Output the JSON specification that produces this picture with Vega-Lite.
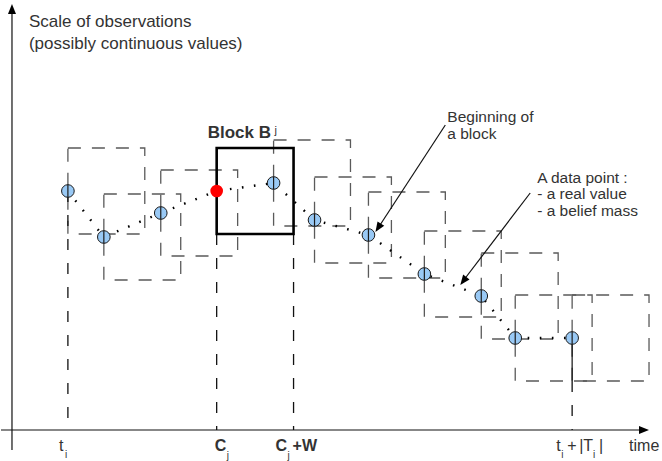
{
  "$schema": "https://vega.github.io/schema/vega-lite/v6.json",
  "width": 662,
  "height": 461,
  "autosize": {"type": "fit", "contains": "padding"},
  "padding": 0,
  "background": "white",
  "config": {"view": {"stroke": null}},
  "datasets": {
    "pts": [
      {"i": 1, "t": 56, "v": 239, "kind": "obs"},
      {"i": 2, "t": 92, "v": 193, "kind": "obs"},
      {"i": 3, "t": 149, "v": 217, "kind": "obs"},
      {"i": 4, "t": 205, "v": 239, "kind": "start"},
      {"i": 5, "t": 262, "v": 247, "kind": "obs"},
      {"i": 6, "t": 303, "v": 210, "kind": "obs"},
      {"i": 7, "t": 357, "v": 195, "kind": "obs"},
      {"i": 8, "t": 413, "v": 156, "kind": "obs"},
      {"i": 9, "t": 470, "v": 134, "kind": "obs"},
      {"i": 10, "t": 504, "v": 92, "kind": "obs"},
      {"i": 11, "t": 561, "v": 92, "kind": "obs"}
    ],
    "boxes": [
      {"t1": 56, "t2": 133, "v1": 196, "v2": 282},
      {"t1": 92, "t2": 169, "v1": 150, "v2": 236},
      {"t1": 149, "t2": 226, "v1": 174, "v2": 260},
      {"t1": 262, "t2": 339, "v1": 204, "v2": 290},
      {"t1": 303, "t2": 380, "v1": 167, "v2": 253},
      {"t1": 357, "t2": 434, "v1": 152, "v2": 238},
      {"t1": 413, "t2": 490, "v1": 113, "v2": 199},
      {"t1": 470, "t2": 547, "v1": 91, "v2": 177},
      {"t1": 504, "t2": 581, "v1": 49, "v2": 135},
      {"t1": 561, "t2": 638, "v1": 49, "v2": 135}
    ],
    "block": [
      {"t1": 205, "t2": 282, "v1": 196, "v2": 282}
    ],
    "dashv": [
      {"t1": 56, "v1": 239, "t2": 56, "v2": 0},
      {"t1": 205, "v1": 196, "t2": 205, "v2": 0},
      {"t1": 282, "v1": 196, "t2": 282, "v2": 0},
      {"t1": 561, "v1": 49, "t2": 561, "v2": 0}
    ],
    "solid": [
      {"t1": 0, "v1": -20, "t2": 0, "v2": 418},
      {"t1": -11, "v1": 0, "t2": 632, "v2": 0},
      {"t1": 561, "v1": 92, "t2": 561, "v2": 49},
      {"t1": 434, "v1": 305, "t2": 366, "v2": 201},
      {"t1": 519, "v1": 237, "t2": 451, "v2": 148}
    ],
    "heads": [
      {"t": 0, "v": 426, "angle": 0},
      {"t": 638, "v": 0, "angle": 90},
      {"t": 364, "v": 198, "angle": 213},
      {"t": 449, "v": 145, "angle": 217}
    ],
    "labels": [
      {"t": 17, "v": 403, "text": "Scale of observations", "size": 17},
      {"t": 17, "v": 381, "text": "(possibly continuous values)", "size": 17},
      {"t": 436, "v": 308, "text": "Beginning of", "size": 15.5},
      {"t": 436, "v": 291, "text": "a block", "size": 15.5},
      {"t": 526, "v": 247, "text": "A data point :", "size": 15.5},
      {"t": 526, "v": 231, "text": "- a real value", "size": 15.5},
      {"t": 526, "v": 214, "text": "- a belief mass", "size": 15.5},
      {"t": 263, "v": 296, "text": "j", "size": 11},
      {"t": 47, "v": -21, "text": "t", "size": 16},
      {"t": 53, "v": -28, "text": "i", "size": 10},
      {"t": 215, "v": -29, "text": "j", "size": 10},
      {"t": 276, "v": -29, "text": "j", "size": 10},
      {"t": 545, "v": -21, "text": "t", "size": 16},
      {"t": 550, "v": -28, "text": "i", "size": 10},
      {"t": 556, "v": -21, "text": "+", "size": 16},
      {"t": 568, "v": -21, "text": "|T", "size": 16},
      {"t": 582, "v": -28, "text": "i", "size": 10},
      {"t": 588, "v": -21, "text": "|", "size": 16},
      {"t": 618, "v": -21, "text": "time", "size": 16}
    ],
    "boldlabels": [
      {"t": 196, "v": 292, "text": "Block B", "size": 17},
      {"t": 203, "v": -21, "text": "C", "size": 16},
      {"t": 264, "v": -21, "text": "C", "size": 16},
      {"t": 281, "v": -21, "text": "+W", "size": 16}
    ]
  },
  "encoding": {
    "x": {"type": "quantitative", "scale": {"domain": [-11, 651], "nice": false, "zero": false}, "axis": null},
    "y": {"type": "quantitative", "scale": {"domain": [-31, 430], "nice": false, "zero": false}, "axis": null}
  },
  "layer": [
    {
      "data": {"name": "boxes"},
      "mark": {"type": "rect", "fill": "transparent", "stroke": "#5a5a5a", "strokeWidth": 1.3, "strokeDash": [13, 11]},
      "encoding": {
        "x": {"field": "t1", "type": "quantitative"},
        "x2": {"field": "t2"},
        "y": {"field": "v1", "type": "quantitative"},
        "y2": {"field": "v2"}
      }
    },
    {
      "data": {"name": "dashv"},
      "mark": {"type": "rule", "stroke": "#111", "strokeWidth": 1.3, "strokeDash": [11, 13]},
      "encoding": {
        "x": {"field": "t1", "type": "quantitative"},
        "x2": {"field": "t2"},
        "y": {"field": "v1", "type": "quantitative"},
        "y2": {"field": "v2"}
      }
    },
    {
      "data": {"name": "solid"},
      "mark": {"type": "rule", "stroke": "#111", "strokeWidth": 1.2},
      "encoding": {
        "x": {"field": "t1", "type": "quantitative"},
        "x2": {"field": "t2"},
        "y": {"field": "v1", "type": "quantitative"},
        "y2": {"field": "v2"}
      }
    },
    {
      "data": {"name": "block"},
      "mark": {"type": "rect", "fill": "transparent", "stroke": "#000", "strokeWidth": 2.6},
      "encoding": {
        "x": {"field": "t1", "type": "quantitative"},
        "x2": {"field": "t2"},
        "y": {"field": "v1", "type": "quantitative"},
        "y2": {"field": "v2"}
      }
    },
    {
      "data": {"name": "pts"},
      "mark": {"type": "line", "stroke": "#000", "strokeWidth": 2.4, "strokeDash": [1.6, 10.5], "strokeCap": "butt"},
      "encoding": {
        "x": {"field": "t", "type": "quantitative"},
        "y": {"field": "v", "type": "quantitative"},
        "order": {"field": "i", "type": "quantitative"}
      }
    },
    {
      "data": {"name": "pts"},
      "transform": [{"filter": "datum.kind == 'obs'"}],
      "mark": {"type": "point", "shape": "circle", "filled": true, "fill": "#99c9f5", "stroke": "#1a1a1a", "strokeWidth": 1, "size": 160, "opacity": 1},
      "encoding": {
        "x": {"field": "t", "type": "quantitative"},
        "y": {"field": "v", "type": "quantitative"}
      }
    },
    {
      "data": {"name": "pts"},
      "transform": [{"filter": "datum.kind == 'obs'"}],
      "mark": {"type": "point", "shape": "M0,-1L0,1", "filled": false, "stroke": "#1a1a1a", "strokeWidth": 1.2, "size": 160, "opacity": 1},
      "encoding": {
        "x": {"field": "t", "type": "quantitative"},
        "y": {"field": "v", "type": "quantitative"}
      }
    },
    {
      "data": {"name": "pts"},
      "transform": [{"filter": "datum.kind == 'start'"}],
      "mark": {"type": "point", "shape": "circle", "filled": true, "fill": "#ff0000", "strokeWidth": 0, "size": 160, "opacity": 1},
      "encoding": {
        "x": {"field": "t", "type": "quantitative"},
        "y": {"field": "v", "type": "quantitative"}
      }
    },
    {
      "data": {"name": "heads"},
      "mark": {"type": "point", "shape": "M0,0L0.8,2L-0.8,2Z", "filled": true, "fill": "#000", "strokeWidth": 0, "size": 100, "opacity": 1},
      "encoding": {
        "x": {"field": "t", "type": "quantitative"},
        "y": {"field": "v", "type": "quantitative"},
        "angle": {"field": "angle", "type": "quantitative", "scale": null}
      }
    },
    {
      "data": {"name": "labels"},
      "mark": {"type": "text", "align": "left", "baseline": "alphabetic", "font": "Liberation Sans", "fill": "#333"},
      "encoding": {
        "x": {"field": "t", "type": "quantitative"},
        "y": {"field": "v", "type": "quantitative"},
        "text": {"field": "text"},
        "size": {"field": "size", "type": "quantitative", "scale": null}
      }
    },
    {
      "data": {"name": "boldlabels"},
      "mark": {"type": "text", "align": "left", "baseline": "alphabetic", "font": "Liberation Sans", "fontWeight": "bold", "fill": "#333"},
      "encoding": {
        "x": {"field": "t", "type": "quantitative"},
        "y": {"field": "v", "type": "quantitative"},
        "text": {"field": "text"},
        "size": {"field": "size", "type": "quantitative", "scale": null}
      }
    }
  ]
}
